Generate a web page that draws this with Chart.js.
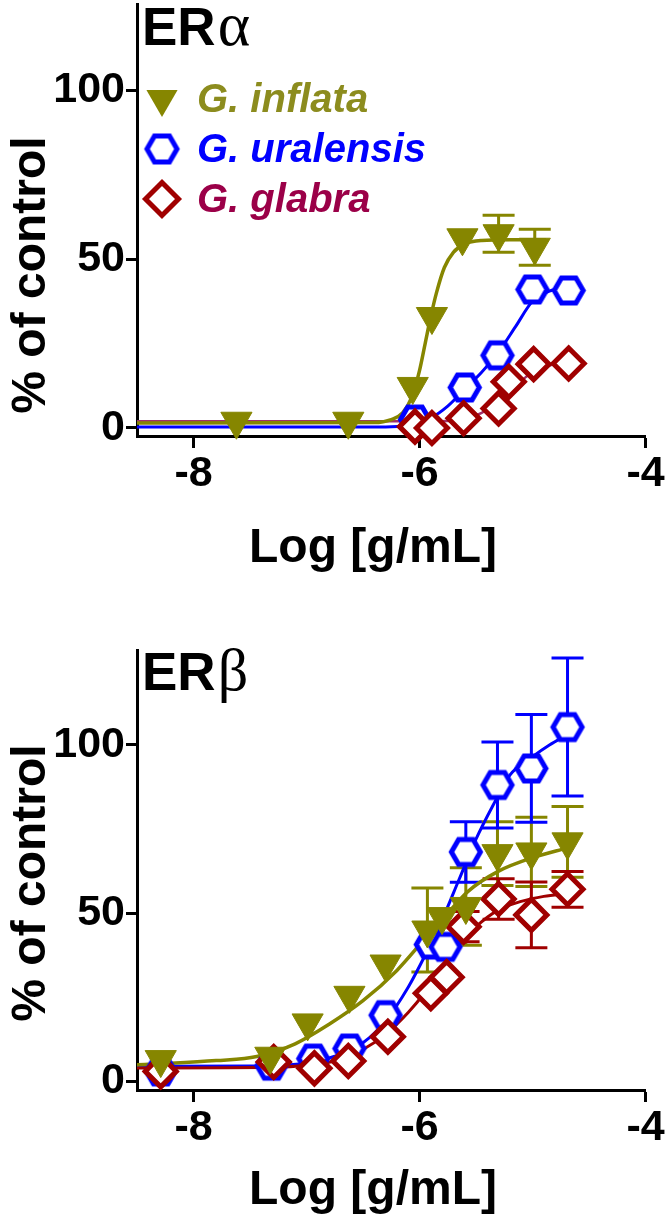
<!DOCTYPE html>
<html>
<head>
<meta charset="utf-8">
<title>ERα / ERβ dose response</title>
<script src="https://cdn.jsdelivr.net/npm/chart.js@4.4.1/dist/chart.umd.min.js"></script>
<style>
  html, body { margin:0; padding:0; background:#ffffff; }
  #page { position:relative; width:667px; height:1217px; overflow:hidden; background:#fff; }
  .panel { position:absolute; left:0; width:667px; }
  #p1 { top:0; height:600px; }
  #p2 { top:600px; height:617px; }
</style>
</head>
<body>
<div id="page">
  <div class="panel" id="p1"><canvas id="chartA"></canvas></div>
  <div class="panel" id="p2"><canvas id="chartB"></canvas></div>
</div>
<script>
// ---------------- data ----------------
const seriesNames = ['G. inflata', 'G. uralensis', 'G. glabra'];
const xTickValues = [-8, -6, -4];
const yTickValues = [0, 50, 100];
const xAxisTitle = 'Log [g/mL]';
const yAxisTitle = '% of control';

// ERα panel – measured points
const alphaInflataX = [-7.62, -6.63, -6.06, -5.89, -5.62, -5.30, -4.98];
const alphaInflataY = [2.0, 2.0, 12.3, 33.0, 56.3, 57.5, 53.5];
const alphaInflataErr = [0, 0, 0, 0, 0, 5.5, 5.3];
const alphaUralX = [-6.04, -5.60, -5.31, -5.00, -4.68];
const alphaUralY = [2.5, 12.0, 21.5, 41.0, 40.7];
const alphaGlabX = [-6.04, -5.89, -5.61, -5.30, -5.21, -4.99, -4.68];
const alphaGlabY = [0.4, 0.0, 2.9, 5.8, 13.7, 18.9, 19.1];
// ERα panel – fitted curves (traced)
const alphaInflataCurveX = [-8.5, -6.4, -6.25, -6.15, -6.07, -6.0, -5.95, -5.9, -5.85, -5.78, -5.7, -5.6, -5.45, -5.2, -4.88];
const alphaInflataCurveY = [1.5, 1.6, 2.5, 4.5, 9, 17, 25, 33, 40, 47.5, 52, 54.5, 55.5, 55.7, 55.7];
const alphaUralCurveX = [-8.5, -6.3, -6.1, -5.9, -5.75, -5.6, -5.45, -5.3, -5.15, -5.0, -4.85, -4.68];
const alphaUralCurveY = [0.3, 0.3, 0.9, 3, 6.5, 11.5, 16.5, 22.5, 30, 37.5, 40.5, 41.5];
const alphaGlabCurveX = [-8.5, -5.8, -5.6, -5.45, -5.3, -5.15, -5.0, -4.85, -4.68];
const alphaGlabCurveY = [2, 2, 2.8, 4.5, 8, 12.5, 16.5, 18.5, 19.5];

// ERβ panel – measured points
const betaInflataX = [-8.29, -7.32, -6.99, -6.62, -6.30, -5.93, -5.80, -5.59, -5.31, -5.01, -4.69];
const betaInflataY = [6.5, 7.5, 17.4, 25.6, 34.9, 45.0, 49.0, 52.0, 67.7, 68.2, 71.2];
const betaInflataErr = [0, 0, 0, 0, 0, 12.5, 0, 11.5, 9.5, 10.3, 10.5];
const betaUralX = [-8.29, -7.31, -6.94, -6.62, -6.30, -5.90, -5.77, -5.59, -5.31, -5.01, -4.69];
const betaUralY = [3.0, 4.7, 6.8, 9.8, 19.7, 40.7, 40.0, 68.2, 88.1, 93.0, 105.3];
const betaUralErr = [0, 0, 0, 0, 0, 0, 0, 9.0, 12.8, 16.0, 20.5];
const betaGlabX = [-8.29, -7.29, -6.93, -6.63, -6.28, -5.90, -5.76, -5.61, -5.30, -5.01, -4.69];
const betaGlabY = [3.0, 5.8, 3.9, 6.1, 13.3, 26.2, 31.0, 46.0, 54.2, 49.5, 57.1];
const betaGlabErr = [0, 0, 0, 0, 0, 0, 0, 4.5, 6.0, 9.8, 5.3];
// ERβ panel – fitted curves (traced)
const betaInflataCurveX = [-8.5, -8.2, -7.8, -7.44, -7.1, -6.8, -6.5, -6.2, -5.95, -5.75, -5.57, -5.3, -5.0, -4.69];
const betaInflataCurveY = [5, 5.4, 6.2, 7.4, 11.2, 17, 24, 33, 42.5, 50, 56.5, 62.5, 66.5, 69.4];
const betaUralCurveX = [-8.5, -7.5, -7.0, -6.75, -6.5, -6.3, -6.1, -5.95, -5.8, -5.65, -5.5, -5.35, -5.2, -5.0, -4.85, -4.69];
const betaUralCurveY = [4.5, 4.6, 5.5, 7.5, 11.5, 18, 28, 37.5, 48, 60, 72, 82, 91, 96.5, 100, 103];
const betaGlabCurveX = [-8.5, -7.3, -7.0, -6.7, -6.5, -6.3, -6.1, -5.95, -5.8, -5.65, -5.5, -5.3, -5.1, -4.9, -4.69];
const betaGlabCurveY = [4, 4.2, 4.8, 6.5, 9.5, 14, 20.5, 26.5, 33.5, 40.5, 46, 51, 53.5, 55, 55.8];

// ---------------- styling ----------------
const FONT = "'Liberation Sans', Arial, Helvetica, sans-serif";
const SERIF = "'Liberation Serif', 'DejaVu Serif', serif";
const OLIVE = '#868600';
const OLIVE_TEXT = '#8c8c1e';
const BLUE = '#0000ff';
const RED = '#a00000';
const GLAB_TEXT = '#9b0048';

function makeHex(color, R, lw) {
  const w = Math.ceil(2 * R + lw * 1.3 + 2);
  const h = Math.ceil(Math.sqrt(3) * R + lw + 2);
  const c = document.createElement('canvas');
  c.width = w; c.height = h;
  const g = c.getContext('2d');
  g.translate(w / 2, h / 2);
  g.beginPath();
  for (let k = 0; k < 6; k++) {
    const a = k * Math.PI / 3;
    const px = R * Math.cos(a), py = R * Math.sin(a);
    if (k === 0) g.moveTo(px, py); else g.lineTo(px, py);
  }
  g.closePath();
  g.fillStyle = '#ffffff'; g.fill();
  g.lineWidth = lw; g.strokeStyle = color; g.lineJoin = 'miter'; g.stroke();
  return c;
}
const hexPoint = makeHex(BLUE, 14.5, 5);
const hexLegend = makeHex(BLUE, 15, 5);

function pts(xs, ys) { return xs.map((x, i) => ({ x: x, y: ys[i] })); }

function markerDataset(kind, idx, xs, ys, errs) {
  const base = {
    label: seriesNames[idx],
    data: pts(xs, ys),
    showLine: false,
    clip: false,
    errors: errs || null,
    legendIndex: idx,
    marker: kind
  };
  if (kind === 'tri') {
    Object.assign(base, { pointStyle: 'triangle', rotation: 180, pointRadius: 18,
      pointBackgroundColor: OLIVE, pointBorderColor: OLIVE, pointBorderWidth: 1,
      errorColor: OLIVE, legendColor: OLIVE_TEXT, order: 1 });
  } else if (kind === 'hex') {
    Object.assign(base, { pointStyle: hexPoint, pointRadius: 15,
      errorColor: BLUE, legendColor: BLUE, order: 3 });
  } else {
    Object.assign(base, { pointStyle: 'rectRot', pointRadius: 15.5,
      pointBackgroundColor: '#ffffff', pointBorderColor: RED, pointBorderWidth: 5,
      errorColor: RED, legendColor: GLAB_TEXT, order: 2 });
  }
  return base;
}
function curveDataset(xs, ys, color, width, order) {
  return { data: pts(xs, ys), showLine: true, pointRadius: 0, borderColor: color,
    borderWidth: width, cubicInterpolationMode: 'monotone', fill: false, order: order };
}

const errorBarPlugin = {
  id: 'errorBars',
  beforeDatasetsDraw(chart) {
    const ctx = chart.ctx, xs = chart.scales.x, ys = chart.scales.y;
    chart.data.datasets.forEach((ds) => {
      if (!ds.errors) return;
      ctx.save();
      ctx.strokeStyle = ds.errorColor; ctx.lineWidth = 3;
      ds.data.forEach((p, i) => {
        const e = ds.errors[i];
        if (!e) return;
        const px = xs.getPixelForValue(p.x);
        const top = ys.getPixelForValue(p.y + e), bot = ys.getPixelForValue(p.y - e);
        ctx.beginPath();
        ctx.moveTo(px, top); ctx.lineTo(px, bot);
        ctx.moveTo(px - 16, top); ctx.lineTo(px + 16, top);
        ctx.moveTo(px - 16, bot); ctx.lineTo(px + 16, bot);
        ctx.stroke();
      });
      ctx.restore();
    });
  }
};

function drawLegendMarker(ctx, kind, x, y) {
  ctx.save();
  if (kind === 'tri') {
    const r = 18;
    ctx.beginPath();
    ctx.moveTo(x, y + r);
    ctx.lineTo(x - r * Math.sin(Math.PI / 3), y - r / 2);
    ctx.lineTo(x + r * Math.sin(Math.PI / 3), y - r / 2);
    ctx.closePath();
    ctx.fillStyle = OLIVE; ctx.fill();
  } else if (kind === 'hex') {
    ctx.drawImage(hexLegend, x - hexLegend.width / 2, y - hexLegend.height / 2);
  } else {
    const r = 16.5;
    ctx.beginPath();
    ctx.moveTo(x - r, y); ctx.lineTo(x, y - r); ctx.lineTo(x + r, y); ctx.lineTo(x, y + r);
    ctx.closePath();
    ctx.fillStyle = '#fff'; ctx.fill();
    ctx.lineWidth = 5; ctx.strokeStyle = RED; ctx.stroke();
  }
  ctx.restore();
}

const decorPlugin = {
  id: 'decor',
  afterDraw(chart, args, o) {
    const ctx = chart.ctx, a = chart.chartArea;
    ctx.save();
    ctx.fillStyle = '#000';
    ctx.textBaseline = 'alphabetic';
    // panel label
    ctx.textAlign = 'left';
    ctx.font = 'bold ' + o.labelSize + 'px ' + FONT;
    const lx = a.left + o.labelDx, ly = a.top + o.labelDy;
    ctx.fillText(o.labelMain, lx, ly);
    const w = ctx.measureText(o.labelMain).width;
    ctx.font = o.greekSize + 'px ' + SERIF;
    ctx.fillText(o.labelGreek, lx + w + 2, ly);
    // x title
    ctx.textAlign = 'center';
    ctx.font = 'bold ' + o.titleSize + 'px ' + FONT;
    ctx.fillText(xAxisTitle, o.xTitleX, a.bottom + o.xTitleDy);
    // y title
    ctx.save();
    ctx.translate(o.yTitleX, a.top + o.yTitleDy);
    ctx.rotate(-Math.PI / 2);
    ctx.fillText(yAxisTitle, 0, 0);
    ctx.restore();
    // legend
    if (o.legend) {
      const items = chart.data.datasets.filter(d => d.marker).sort((p, q) => p.legendIndex - q.legendIndex);
      items.forEach((d, k) => {
        const cy = a.top + o.legendTop + k * o.legendGap;
        drawLegendMarker(ctx, d.marker, a.left + o.legendMarkerDx, cy);
        ctx.font = 'italic bold ' + o.legendSize + 'px ' + FONT;
        ctx.fillStyle = d.legendColor;
        ctx.textAlign = 'left';
        ctx.fillText(d.label, a.left + o.legendTextDx, cy + o.legendBaseDy);
      });
    }
    ctx.restore();
  }
};

function makeScales(yMin, yMax, xHeight) {
  return {
    x: {
      type: 'linear', min: -8.5, max: -4,
      afterBuildTicks: (s) => { s.ticks = xTickValues.map(v => ({ value: v })); },
      afterFit: (s) => { s.height = xHeight; },
      grid: { display: true, drawOnChartArea: false, drawTicks: true, tickLength: 12, tickWidth: 3, tickColor: '#000' },
      border: { display: true, color: '#000', width: 3 },
      ticks: { color: '#000', font: { family: FONT, size: 43, weight: 'bold' }, padding: 0,
        maxRotation: 0, autoSkip: false, callback: (v) => String(v) },
      title: { display: false }
    },
    y: {
      type: 'linear', min: yMin, max: yMax,
      afterBuildTicks: (s) => { s.ticks = yTickValues.map(v => ({ value: v })); },
      afterFit: (s) => { s.width = 137; s.paddingTop = 0; s.paddingBottom = 0; },
      grid: { display: true, drawOnChartArea: false, drawTicks: true, tickLength: 11, tickWidth: 3, tickColor: '#000' },
      border: { display: true, color: '#000', width: 3 },
      ticks: { color: '#000', font: { family: FONT, size: 43, weight: 'bold' }, padding: 1,
        autoSkip: false, callback: (v) => String(v) },
      title: { display: false }
    }
  };
}

function makeChart(id, datasets, scales, padTop, decor) {
  return new Chart(document.getElementById(id), {
    type: 'scatter',
    data: { datasets: datasets },
    options: {
      responsive: true, maintainAspectRatio: false, animation: false, devicePixelRatio: 1,
      events: [],
      layout: { autoPadding: false, padding: { top: padTop, right: 21.5, left: 0, bottom: 0 } },
      scales: scales,
      plugins: { legend: { display: false }, tooltip: { enabled: false }, decor: decor }
    },
    plugins: [errorBarPlugin, decorPlugin]
  });
}

// ---- ERα ----
makeChart('chartA', [
  markerDataset('tri', 0, alphaInflataX, alphaInflataY, alphaInflataErr),
  markerDataset('hex', 1, alphaUralX, alphaUralY, null),
  markerDataset('dia', 2, alphaGlabX, alphaGlabY, null),
  curveDataset(alphaInflataCurveX, alphaInflataCurveY, OLIVE, 3.5, 10),
  curveDataset(alphaGlabCurveX, alphaGlabCurveY, '#a0306a', 2.5, 11),
  curveDataset(alphaUralCurveX, alphaUralCurveY, BLUE, 3, 12)
], makeScales(-2.37, 125.5, 164), 4, {
  labelMain: 'ER', labelGreek: 'α', labelSize: 53, greekSize: 62, labelDx: 5, labelDy: 41,
  titleSize: 48, xTitleX: 373, xTitleDy: 126, yTitleX: 45, yTitleDy: 271,
  legend: true, legendTop: 95, legendGap: 50, legendMarkerDx: 25, legendTextDx: 60,
  legendBaseDy: 13, legendSize: 40
});

// ---- ERβ ----
makeChart('chartB', [
  markerDataset('tri', 0, betaInflataX, betaInflataY, betaInflataErr),
  markerDataset('hex', 1, betaUralX, betaUralY, betaUralErr),
  markerDataset('dia', 2, betaGlabX, betaGlabY, betaGlabErr),
  curveDataset(betaInflataCurveX, betaInflataCurveY, OLIVE, 3.5, 10),
  curveDataset(betaGlabCurveX, betaGlabCurveY, RED, 3, 11),
  curveDataset(betaUralCurveX, betaUralCurveY, BLUE, 3, 12)
], makeScales(-2.53, 128.2, 127), 50, {
  labelMain: 'ER', labelGreek: 'β', labelSize: 53, greekSize: 60, labelDx: 5, labelDy: 40,
  titleSize: 48, xTitleX: 373, xTitleDy: 114, yTitleX: 45, yTitleDy: 233,
  legend: false
});
</script>
</body>
</html>
